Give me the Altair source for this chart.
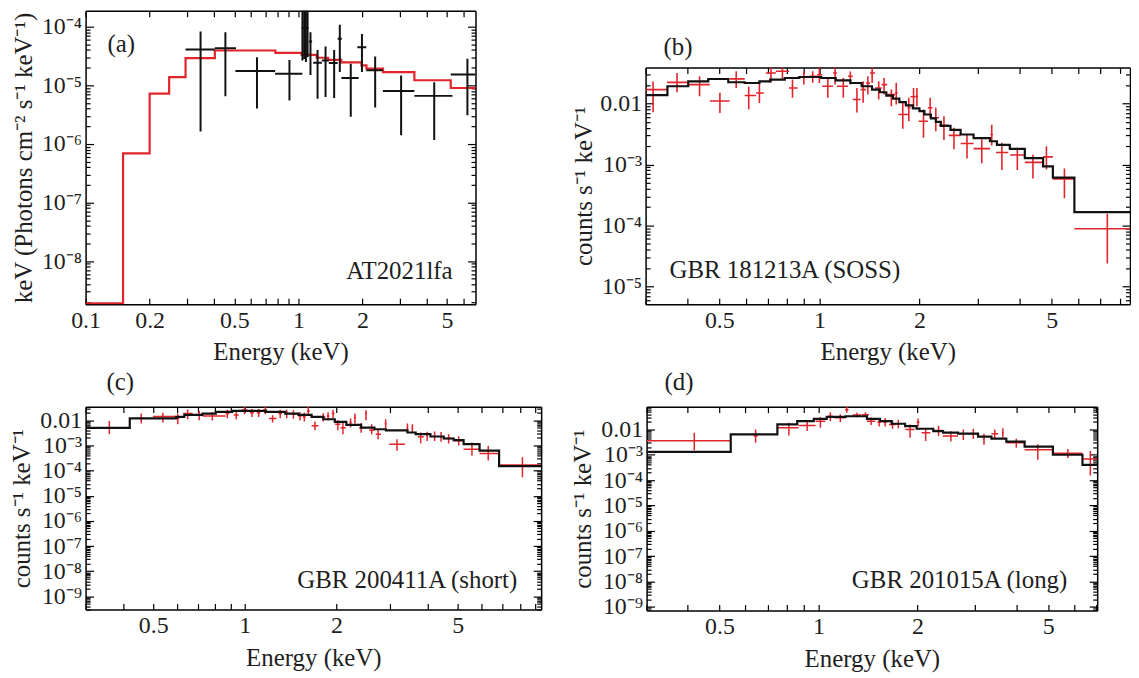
import math
import altair as alt
import pandas as pd

FONT = "Liberation Serif"
RED = "#e2242b"
BLACK = "#111111"
TXT = "#1e1e1e"

# ---------------- Panel (a) AT2021lfa ----------------
a_model_lo = [0.1, 0.15, 0.2, 0.247, 0.295, 0.405, 0.78, 1.036, 1.22, 1.38, 1.59, 1.98, 2.09, 2.5, 3.51, 5.2]
a_model_val = [1.9e-9, 6.9e-7, 7.2e-6, 1.38e-5, 2.9e-5, 3.92e-5, 3.57e-5, 3.3e-5, 2.95e-5, 2.72e-5,
               2.46e-5, 2.18e-5, 1.92e-5, 1.68e-5, 1.22e-5, 9.0e-6]
a_model_end = 6.8
a_e = [0.347, 0.454, 0.639, 0.908, 1.045, 1.065, 1.085, 1.105, 1.14, 1.231, 1.342, 1.473, 1.566, 1.763,
       1.99, 2.296, 3.04, 4.35, 6.23]
a_elo = [0.295, 0.405, 0.506, 0.778, 1.036, 1.055, 1.075, 1.095, 1.12, 1.175, 1.29, 1.39, 1.53, 1.594,
         1.892, 2.085, 2.495, 3.51, 5.2]
a_ehi = [0.405, 0.509, 0.778, 1.044, 1.055, 1.075, 1.095, 1.115, 1.16, 1.29, 1.39, 1.53, 1.6, 1.92,
         2.085, 2.495, 3.51, 5.3, 6.8]
a_f = [4.07e-5, 4.28e-5, 1.75e-5, 1.57e-5, 9.5e-5, 9.5e-5, 9.5e-5, 9.5e-5, 5.6e-5, 2.42e-5, 2.65e-5,
       2.4e-5, 6.2e-5, 1.33e-5, 4.46e-5, 1.8e-5, 7.98e-6, 6.6e-6, 1.53e-5]
a_flo = [1.62e-6, 6.5e-6, 4.0e-6, 5.5e-6, 2.65e-5, 2.8e-5, 2.5e-5, 3.0e-5, 1.5e-5, 5.9e-6, 6.3e-6,
         6.1e-6, 1.68e-5, 2.9e-6, 1.68e-5, 4.2e-6, 1.41e-6, 1.16e-6, 3.09e-6]
a_fhi = [8.3e-5, 8.0e-5, 3.0e-5, 2.7e-5, 3e-4, 3e-4, 3e-4, 3e-4, 8.0e-5, 4.0e-5, 4.6e-5, 4.0e-5,
         1.08e-4, 2.33e-5, 7.5e-5, 3.1e-5, 1.47e-5, 1.13e-5, 2.83e-5]

# ---------------- Panel (b) GBR 181213A (SOSS) ----------------
b_model_lo = [0.30, 0.349, 0.403, 0.463, 0.532, 0.596, 0.66, 0.711, 0.787, 0.87, 1.013, 1.12, 1.24,
              1.34, 1.44, 1.52, 1.59, 1.665, 1.74, 1.82, 1.91, 2.0, 2.07, 2.165, 2.24, 2.32, 2.48,
              2.66, 2.91, 3.26, 3.42, 3.74, 4.15, 4.71, 5.04, 5.85]
b_model_val = [0.0137, 0.0192, 0.0231, 0.0252, 0.0223, 0.0217, 0.0231, 0.0246, 0.0262, 0.0272,
               0.0262, 0.0240, 0.0217, 0.0192, 0.0169, 0.0153, 0.0135, 0.0120, 0.0105, 0.0093,
               0.0083, 0.0075, 0.0066, 0.0057, 0.0050, 0.0043, 0.0037, 0.0031, 0.0027, 0.0024,
               0.0021, 0.0018, 0.00127, 0.00093, 0.00061, 0.000165]
b_model_end = 8.6
b_e = [0.316, 0.373, 0.436, 0.502, 0.562, 0.613, 0.66, 0.715, 0.774, 0.83, 0.898, 0.955, 1.0, 1.06,
       1.115, 1.18, 1.239, 1.297, 1.354, 1.399, 1.441, 1.508, 1.565, 1.646, 1.703, 1.782, 1.858,
       1.92, 1.965, 2.057, 2.154, 2.24, 2.37, 2.54, 2.78, 3.08, 3.30, 3.54, 3.94, 4.39, 4.82, 5.46, 7.35]
b_elo = [0.30, 0.348, 0.404, 0.468, 0.537, 0.596, 0.645, 0.69, 0.74, 0.81, 0.86, 0.935, 0.985, 1.02,
         1.10, 1.13, 1.22, 1.26, 1.33, 1.38, 1.42, 1.47, 1.54, 1.60, 1.69, 1.73, 1.84, 1.88, 1.95,
         1.99, 2.12, 2.19, 2.29, 2.45, 2.66, 2.91, 3.27, 3.40, 3.75, 4.15, 4.71, 5.04, 5.85]
b_ehi = [0.348, 0.404, 0.468, 0.537, 0.596, 0.645, 0.68, 0.74, 0.81, 0.86, 0.935, 0.985, 1.02, 1.10,
         1.13, 1.22, 1.26, 1.33, 1.38, 1.42, 1.47, 1.54, 1.60, 1.69, 1.72, 1.85, 1.88, 1.95, 1.98,
         2.12, 2.19, 2.29, 2.45, 2.66, 2.91, 3.26, 3.33, 3.70, 4.15, 4.71, 5.04, 5.85, 8.6]
b_f = [0.0169, 0.0222, 0.0204, 0.011, 0.0253, 0.0135, 0.0149, 0.0316, 0.0337, 0.018, 0.0272, 0.0279,
       0.0297, 0.0192, 0.0316, 0.0192, 0.0279, 0.0116, 0.0169, 0.0217, 0.0316, 0.018, 0.0204, 0.014,
       0.0149, 0.0066, 0.0085, 0.0129, 0.0132, 0.0051, 0.0085, 0.00585, 0.00437, 0.003, 0.0022,
       0.00182, 0.0031, 0.00157, 0.00143, 0.00108, 0.00133, 5.8e-4, 8.8e-5]
b_flo = [0.0072, 0.0153, 0.0132, 0.007, 0.018, 0.008, 0.0102, 0.0218, 0.0253, 0.0124, 0.0204, 0.0218,
         0.0217, 0.0124, 0.0204, 0.0124, 0.0204, 0.0071, 0.0103, 0.0141, 0.0217, 0.0116, 0.014, 0.009,
         0.0096, 0.00385, 0.0051, 0.0085, 0.009, 0.00275, 0.00585, 0.00352, 0.00252, 0.00178,
         0.00125, 0.00105, 0.00204, 0.00081, 0.00081, 0.00059, 0.00083, 2.8e-4, 2.37e-5]
b_fhi = [0.023, 0.0316, 0.0279, 0.015, 0.0337, 0.019, 0.023, 0.045, 0.045, 0.0247, 0.0337, 0.0337,
         0.045, 0.0262, 0.045, 0.0262, 0.0336, 0.018, 0.0231, 0.0279, 0.045, 0.0231, 0.0262, 0.0169,
         0.0218, 0.0103, 0.0124, 0.018, 0.018, 0.008, 0.0124, 0.0085, 0.0062, 0.004, 0.0031,
         0.00259, 0.00449, 0.00228, 0.00188, 0.00144, 0.00199, 8.6e-4, 1.55e-4]

# ---------------- Panel (c) GBR 200411A (short) ----------------
c_model_lo = [0.30, 0.419, 0.595, 0.633, 0.726, 0.803, 0.909, 1.168, 1.357, 1.5, 1.657, 1.81, 1.975,
              2.155, 2.41, 2.665, 2.906, 3.42, 3.64, 4.07, 4.5, 4.85, 5.23, 5.9, 6.84]
c_model_val = [0.0050, 0.012, 0.0136, 0.0163, 0.0184, 0.0215, 0.0236, 0.0215, 0.0184, 0.0163,
               0.0136, 0.011, 0.0086, 0.0066, 0.0051, 0.0044, 0.004, 0.00327, 0.0028, 0.00227,
               0.00189, 0.00162, 0.00112, 6.2e-4, 1.5e-4]
c_model_end = 9.4
c_e = [0.359, 0.457, 0.538, 0.602, 0.649, 0.708, 0.782, 0.876, 0.937, 0.998, 1.056, 1.11, 1.168,
       1.234, 1.307, 1.373, 1.444, 1.518, 1.568, 1.616, 1.70, 1.81, 1.877, 1.949, 2.02, 2.10, 2.225,
       2.30, 2.41, 2.50, 2.61, 2.74, 2.90, 3.16, 3.42, 3.55, 3.78, 3.97, 4.20, 4.41, 4.67, 5.04,
       5.57, 6.3, 8.16]
c_elo = [0.30, 0.449, 0.499, 0.595, 0.628, 0.69, 0.726, 0.865, 0.92, 0.975, 1.04, 1.095, 1.15, 1.20,
         1.29, 1.355, 1.425, 1.50, 1.55, 1.60, 1.657, 1.78, 1.86, 1.93, 1.98, 2.06, 2.205, 2.28,
         2.37, 2.48, 2.56, 2.69, 2.88, 2.98, 3.40, 3.53, 3.70, 3.95, 4.18, 4.39, 4.5, 4.85, 5.23,
         5.9, 6.84]
c_ehi = [0.419, 0.465, 0.595, 0.61, 0.674, 0.726, 0.865, 0.89, 0.955, 1.02, 1.07, 1.125, 1.185, 1.27,
         1.325, 1.39, 1.465, 1.535, 1.585, 1.635, 1.745, 1.84, 1.895, 1.97, 2.06, 2.145, 2.245, 2.32,
         2.46, 2.52, 2.66, 2.80, 2.92, 3.36, 3.44, 3.57, 3.87, 3.99, 4.22, 4.43, 4.85, 5.23, 5.9,
         6.84, 9.4]
c_f = [0.0048, 0.012, 0.014, 0.012, 0.0184, 0.0163, 0.0149, 0.0184, 0.0163, 0.0258, 0.0201, 0.0201,
       0.0258, 0.0117, 0.0184, 0.0184, 0.0173, 0.0149, 0.0137, 0.0236, 0.006, 0.0136, 0.0149, 0.0184,
       0.0069, 0.0051, 0.0081, 0.0128, 0.0051, 0.0184, 0.004, 0.0028, 0.0074, 0.00112, 0.0051,
       0.0047, 0.0022, 0.0024, 0.0024, 0.0022, 0.00189, 0.00153, 7.1e-4, 4.8e-4, 1.66e-4]
c_flo = [0.0028, 0.0074, 0.0081, 0.007, 0.011, 0.01, 0.0098, 0.012, 0.011, 0.0173, 0.0135, 0.0135,
         0.0173, 0.0081, 0.012, 0.012, 0.0115, 0.0098, 0.009, 0.0173, 0.004, 0.009, 0.0098, 0.012,
         0.004, 0.0028, 0.0052, 0.0074, 0.0032, 0.01, 0.0028, 0.00178, 0.0048, 6.2e-4, 0.0035,
         0.0032, 0.0012, 0.0015, 0.0015, 0.0014, 0.0012, 0.001, 3.9e-4, 2.5e-4, 5.4e-5]
c_fhi = [0.0094, 0.0184, 0.0201, 0.0184, 0.027, 0.0236, 0.0215, 0.026, 0.024, 0.036, 0.028, 0.028,
         0.036, 0.0158, 0.026, 0.026, 0.025, 0.021, 0.02, 0.036, 0.0089, 0.019, 0.021, 0.026, 0.01,
         0.0089, 0.0118, 0.0184, 0.0078, 0.025, 0.0069, 0.0044, 0.011, 0.00178, 0.0074, 0.007,
         0.00327, 0.0035, 0.0036, 0.0034, 0.0028, 0.0023, 0.00132, 9.8e-4, 3.4e-4]

# ---------------- Panel (d) GBR 201015A (long) ----------------
d_model_lo = [0.30, 0.541, 0.75, 0.862, 0.968, 1.06, 1.21, 1.405, 1.54, 1.67, 1.835, 1.99, 2.236,
              2.395, 2.66, 3.06, 3.36, 3.73, 4.24, 5.17, 6.36]
d_model_val = [0.0013, 0.0064, 0.0157, 0.0211, 0.026, 0.031, 0.033, 0.026, 0.0211, 0.0167, 0.0135,
               0.0106, 0.0086, 0.0074, 0.0068, 0.0052, 0.0043, 0.0033, 0.0021, 0.001, 4.0e-4]
d_model_end = 7.05
d_e = [0.419, 0.644, 0.813, 0.924, 1.014, 1.087, 1.166, 1.22, 1.31, 1.39, 1.447, 1.53, 1.596, 1.68,
       1.75, 1.9, 2.01, 2.12, 2.32, 2.53, 2.76, 2.96, 3.19, 3.44, 3.64, 4.0, 4.65, 5.74, 6.72]
d_elo = [0.30, 0.635, 0.75, 0.87, 0.98, 1.07, 1.12, 1.205, 1.27, 1.355, 1.405, 1.51, 1.575, 1.64,
         1.73, 1.84, 1.99, 2.06, 2.25, 2.39, 2.74, 2.85, 3.17, 3.36, 3.62, 3.73, 4.24, 5.17, 6.36]
d_ehi = [0.541, 0.653, 0.87, 0.98, 1.05, 1.105, 1.21, 1.235, 1.35, 1.425, 1.49, 1.55, 1.615, 1.72,
         1.77, 1.96, 2.03, 2.19, 2.39, 2.66, 2.78, 3.06, 3.21, 3.52, 3.66, 4.24, 5.17, 6.36, 7.05]
d_f = [0.0036, 0.0055, 0.0116, 0.0144, 0.0211, 0.033, 0.0286, 0.06, 0.037, 0.038, 0.0211, 0.0193,
       0.0193, 0.0157, 0.016, 0.01, 0.0193, 0.0074, 0.0091, 0.0055, 0.0064, 0.0068, 0.0043, 0.0068,
       0.0074, 0.003, 0.00156, 0.00115, 6.8e-4]
d_flo = [0.0015, 0.003, 0.0058, 0.0086, 0.0116, 0.0211, 0.019, 0.045, 0.03, 0.031, 0.015, 0.013,
         0.013, 0.0105, 0.011, 0.0047, 0.013, 0.0035, 0.0055, 0.0033, 0.0038, 0.0042, 0.0025, 0.0045,
         0.0048, 0.0019, 6.3e-4, 7.5e-4, 1.5e-4]
d_fhi = [0.0074, 0.01, 0.0183, 0.0211, 0.031, 0.047, 0.04, 0.09, 0.045, 0.047, 0.03, 0.028, 0.028,
         0.023, 0.024, 0.0157, 0.027, 0.0116, 0.014, 0.0085, 0.01, 0.0105, 0.0068, 0.01, 0.011,
         0.0043, 0.0026, 0.0017, 0.0014]

# ---------------- tick labels ----------------
xlab_a_vals = [0.1, 0.2, 0.5, 1, 2, 5]
xlab_a_txt = ["0.1", "0.2", "0.5", "1", "2", "5"]
xlab_vals = [0.5, 1, 2, 5]
xlab_txt = ["0.5", "1", "2", "5"]
ylab_a_vals = [1e-4, 1e-5, 1e-6, 1e-7, 1e-8]
ylab_a_txt = ["10⁻⁴", "10⁻⁵", "10⁻⁶", "10⁻⁷", "10⁻⁸"]
ylab_b_vals = [0.01, 1e-3, 1e-4, 1e-5]
ylab_b_txt = ["0.01", "10⁻³", "10⁻⁴", "10⁻⁵"]
ylab_cd_vals = [0.01, 1e-3, 1e-4, 1e-5, 1e-6, 1e-7, 1e-8, 1e-9]
ylab_cd_txt = ["0.01", "10⁻³", "10⁻⁴", "10⁻⁵", "10⁻⁶", "10⁻⁷", "10⁻⁸", "10⁻⁹"]

TITLE_A = "keV (Photons cm⁻² s⁻¹ keV⁻¹)"
TITLE_C = "counts s⁻¹ keV⁻¹"
XTITLE = "Energy (keV)"


def log_ticks(lo, hi):
    out = []
    for ex in range(math.floor(math.log10(lo)), math.ceil(math.log10(hi)) + 1):
        for k in range(1, 10):
            v = float(f"{k}e{ex}")
            if lo * (1 - 1e-9) <= v <= hi * (1 + 1e-9):
                out.append(v)
    return out


def label_expr(values, texts):
    parts = [f"abs(datum.value / {float(v)!r} - 1) < 1e-6 ? '{t}'" for v, t in zip(values, texts)]
    return " : ".join(parts) + " : ''"


MAJOR_Y = "abs(log(datum.value) / LN10 - round(log(datum.value) / LN10)) < 1e-6"
YTICK = alt.ExprRef(expr=f"{MAJOR_Y} ? -8 : -4.5")
XTICK = alt.ExprRef(expr="-6")

COMMON = dict(grid=False, domain=True, domainColor="black", domainWidth=1.5,
              tickColor="black", tickWidth=1.2, labelOverlap=False, labelFlush=False)


def panel(mlo, mval, mend, e, elo, ehi, f, flo, fhi, xdom, ydom, xl_v, xl_t, yl_v, yl_t,
          ytitle, w, h, dcolor, mcolor, dwidth, model_on_top, texts, ytitle_pad):
    xs = alt.Scale(type="log", domain=xdom, nice=False)
    ys = alt.Scale(type="log", domain=ydom, nice=False)
    xt = log_ticks(*xdom)
    yt = log_ticks(*ydom)
    ax_b = alt.Axis(orient="bottom", values=xt, labelExpr=label_expr(xl_v, xl_t), tickSize=XTICK,
                    labelPadding=10, title=XTITLE, titlePadding=8, **COMMON)
    ax_t = alt.Axis(orient="top", values=xt, labels=False, tickSize=XTICK, title=None, **COMMON)
    ax_l = alt.Axis(orient="left", values=yt, labelExpr=label_expr(yl_v, yl_t), tickSize=YTICK,
                    labelPadding=12, title=ytitle, titlePadding=ytitle_pad, **COMMON)
    ax_r = alt.Axis(orient="right", values=yt, labels=False, tickSize=YTICK, title=None, **COMMON)

    mdf = pd.DataFrame({"E": list(mlo) + [mend], "F": list(mval) + [mval[-1]]})
    ddf = pd.DataFrame({"E": e, "Elo": elo, "Ehi": ehi, "F": f, "Flo": flo, "Fhi": fhi})

    model = alt.Chart(mdf).mark_line(interpolate="step-after", color=mcolor, strokeWidth=2.2,
                                     clip=True).encode(
        x=alt.X("E:Q", scale=xs, axis=ax_b), y=alt.Y("F:Q", scale=ys, axis=ax_l))
    hbar = alt.Chart(ddf).mark_rule(color=dcolor, strokeWidth=dwidth, clip=True).encode(
        x=alt.X("Elo:Q", scale=xs, axis=ax_t), x2="Ehi:Q", y=alt.Y("F:Q", scale=ys, axis=ax_r))
    vbar = alt.Chart(ddf).mark_rule(color=dcolor, strokeWidth=dwidth, clip=True).encode(
        x=alt.X("E:Q", scale=xs, axis=None), y=alt.Y("Flo:Q", scale=ys, axis=None), y2="Fhi:Q")

    layers = [hbar, vbar, model] if model_on_top else [model, hbar, vbar]
    for txt, px, py, align in texts:
        layers.append(
            alt.Chart(pd.DataFrame({"t": [txt]})).mark_text(
                align=align, baseline="middle", font=FONT, fontSize=25, color=TXT
            ).encode(text="t:N", x=alt.value(px), y=alt.value(py))
        )
    return alt.layer(*layers).resolve_axis(x="independent", y="independent").properties(
        width=w, height=h)


pa = panel(a_model_lo, a_model_val, a_model_end, a_e, a_elo, a_ehi, a_f, a_flo, a_fhi,
           [0.1, 6.8], [1.84e-9, 1.87e-4], xlab_a_vals, xlab_a_txt, ylab_a_vals, ylab_a_txt,
           TITLE_A, 392, 295, BLACK, RED, 2.0, False,
           [("(a)", 22, 33, "left"), ("AT2021lfa", 369, 262, "right")], 5)
pb = panel(b_model_lo, b_model_val, b_model_end, b_e, b_elo, b_ehi, b_f, b_flo, b_fhi,
           [0.3, 8.6], [5.1e-6, 0.039], xlab_vals, xlab_txt, ylab_b_vals, ylab_b_txt,
           TITLE_C, 487, 238, RED, BLACK, 1.6, True,
           [("(b)", 18, -21, "left"), ("GBR 181213A (SOSS)", 24, 204, "left")], 3)
pc = panel(c_model_lo, c_model_val, c_model_end, c_e, c_elo, c_ehi, c_f, c_flo, c_fhi,
           [0.3, 9.4], [3.0e-10, 0.0348], xlab_vals, xlab_txt, ylab_cd_vals, ylab_cd_txt,
           TITLE_C, 458, 204, RED, BLACK, 1.5, True,
           [("(c)", 21, -25, "left"), ("GBR 200411A (short)", 434, 174, "right")], 5)
pd_ = panel(d_model_lo, d_model_val, d_model_end, d_e, d_elo, d_ehi, d_f, d_flo, d_fhi,
            [0.3, 7.05], [7.1e-10, 0.079], xlab_vals, xlab_txt, ylab_cd_vals, ylab_cd_txt,
            TITLE_C, 453, 205, RED, BLACK, 1.5, True,
            [("(d)", 18, -25, "left"), ("GBR 201015A (long)", 423, 174, "right")], 5)

spacer = alt.Chart(pd.DataFrame({"v": [0]})).mark_point(opacity=0).encode(
    x=alt.X("v:Q", axis=None), y=alt.Y("v:Q", axis=None)).properties(width=487, height=47)

col_b = alt.vconcat(spacer, pb, spacing=10, bounds="flush")
row1 = alt.hconcat(pa, col_b, spacing=171, bounds="flush")
row2 = alt.hconcat(pc, pd_, spacing=106, bounds="flush")

# with flush bounds a nested concat row counts as zero height, so the gap holds row 1's height
chart = alt.vconcat(row1, row2, spacing=398, bounds="flush").properties(
    padding={"left": 2, "top": 0, "right": 0, "bottom": 0}
).configure_view(stroke=None).configure_axis(
    labelFont=FONT, labelFontSize=24, labelColor=TXT,
    titleFont=FONT, titleFontSize=25, titleFontWeight="normal", titleColor=TXT,
)

chart.save("out.html", embed_options={"renderer": "svg", "actions": False})
